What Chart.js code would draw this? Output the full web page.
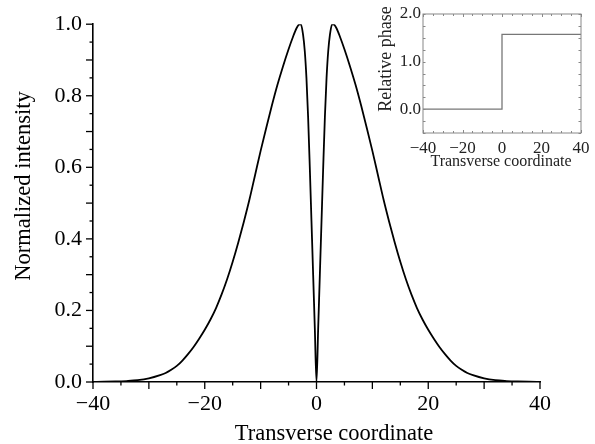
<!DOCTYPE html>
<html><head><meta charset="utf-8">
<script src="https://cdn.jsdelivr.net/npm/chart.js@4"></script>
<style>
html,body{margin:0;padding:0;background:#fff;}
#wrap{position:relative;width:595px;height:444px;overflow:hidden;}
#main{position:absolute;left:0;top:0;}
#inset{position:absolute;left:370px;top:0;}
</style></head><body>
<div id="wrap">
<canvas id="main" width="595" height="444"></canvas>
<canvas id="inset" width="225" height="180"></canvas>
</div>
<script>
// ---- main chart data ----
const transverseCoordinate = [-40,-38,-36,-34,-32,-30,-28,-27,-26,-25,-24,-23,-22,-21,-20,-19,-18,-17,-16,-15,-14,-13,-12,-11,-10,-9,-8,-7,-6,-5,-4.2,-3.6,-3.2,-2.8,-2.4,-2.1,-1.8,-1.5,-1.2,-0.9,-0.6,-0.3,0,
  0.3,0.6,0.9,1.2,1.5,1.8,2.1,2.4,2.8,3.2,3.6,4.2,5,6,7,8,9,10,11,12,13,14,15,16,17,18,19,20,21,22,23,24,25,26,27,28,30,32,34,36,38,40];
const normalizedIntensity = [0.0003,0.0007,0.0014,0.0027,0.005,0.010,0.019,0.025,0.034,0.045,0.060,0.078,0.098,0.121,0.146,0.174,0.206,0.244,0.287,0.336,0.390,0.448,0.510,0.578,0.646,0.710,0.772,0.830,0.882,0.930,0.965,0.988,0.998,1.0,0.97,0.925,0.85,0.74,0.60,0.45,0.30,0.15,0,
  0.15,0.30,0.45,0.60,0.74,0.85,0.925,0.97,1.0,0.998,0.988,0.965,0.930,0.882,0.830,0.772,0.710,0.646,0.578,0.510,0.448,0.390,0.336,0.287,0.244,0.206,0.174,0.146,0.121,0.098,0.078,0.060,0.045,0.034,0.025,0.019,0.010,0.005,0.0027,0.0014,0.0007,0.0003];
const mainXLabels = [-40,-20,0,20,40];
const mainYLabels = [0,0.2,0.4,0.6,0.8,1.0];
const mainXTitle = 'Transverse coordinate';
const mainYTitle = 'Normalized intensity';

// ---- inset data ----
const phaseX = [-40,0,0,40];
const phaseY = [0,0,1.57,1.57];
const insetXLabels = [-40,-20,0,20,40];
const insetYLabels = [0,1,2];
const insetXTitle = 'Transverse coordinate';
const insetYTitle = 'Relative phase';

const SERIF = '"Liberation Serif", "Times New Roman", serif';
const fmtX = v => (v < 0 ? '\u2212' + Math.abs(v) : String(v));

const mainDecor = {
  id: 'mainDecor',
  afterDraw(chart) {
    const {ctx, scales: {x, y}, chartArea: ca} = chart;
    ctx.save();
    ctx.strokeStyle = '#000';
    ctx.lineWidth = 1.3;
    x.ticks.forEach(t => {
      const p = x.getPixelForValue(t.value);
      const major = Math.round(t.value) % 10 === 0;
      ctx.beginPath(); ctx.moveTo(p, ca.bottom); ctx.lineTo(p, ca.bottom + (major ? 7 : 3.5)); ctx.stroke();
    });
    y.ticks.forEach(t => {
      const p = y.getPixelForValue(t.value);
      const major = Math.round(t.value * 100) % 10 === 0;
      ctx.beginPath(); ctx.moveTo(ca.left, p); ctx.lineTo(ca.left - (major ? 7 : 3.5), p); ctx.stroke();
    });
    ctx.fillStyle = '#000';
    ctx.font = '22.5px ' + SERIF;
    ctx.textAlign = 'center';
    ctx.textBaseline = 'middle';
    ctx.fillText(mainXTitle, 334, 434);
    ctx.translate(24, 186);
    ctx.rotate(-Math.PI / 2);
    ctx.fillText(mainYTitle, 0, 0);
    ctx.restore();
  }
};

new Chart(document.getElementById('main'), {
  type: 'scatter',
  data: {
    datasets: [{
      data: transverseCoordinate.map((v, i) => ({x: v, y: normalizedIntensity[i]})),
      showLine: true,
      borderColor: '#000',
      borderWidth: 1.8,
      pointRadius: 0,
      cubicInterpolationMode: 'monotone',
      fill: false
    }]
  },
  options: {
    responsive: false,
    animation: false,
    layout: {padding: {left: 0, right: 55, top: 22, bottom: 0}},
    plugins: {legend: {display: false}, tooltip: {enabled: false}},
    scales: {
      x: {
        type: 'linear', min: -40, max: 40,
        afterFit: s => { s.height = 62; },
        grid: {display: false, drawTicks: false},
        border: {display: true, color: '#000', width: 1.6},
        ticks: {
          stepSize: 5, autoSkip: false, maxRotation: 0, padding: 9,
          color: '#000', font: {family: SERIF, size: 22},
          callback: v => (mainXLabels.includes(v) ? fmtX(v) : '')
        }
      },
      y: {
        type: 'linear', min: 0, max: 1,
        afterFit: s => { s.width = 93; },
        grid: {display: false, drawTicks: false},
        border: {display: true, color: '#000', width: 1.6},
        ticks: {
          stepSize: 0.05, autoSkip: false, padding: 11,
          color: '#000', font: {family: SERIF, size: 22},
          callback: v => {
            const r = Math.round(v * 100);
            return mainYLabels.some(l => Math.round(l * 100) === r) ? (r / 100).toFixed(1) : '';
          }
        }
      }
    }
  },
  plugins: [mainDecor]
});

const insetDecor = {
  id: 'insetDecor',
  afterDraw(chart) {
    const {ctx, scales: {x, y}, chartArea: ca} = chart;
    ctx.save();
    ctx.strokeStyle = '#888';
    ctx.lineWidth = 1;
    ctx.strokeRect(ca.left, ca.top, ca.right - ca.left, ca.bottom - ca.top);
    x.ticks.forEach(t => {
      const p = Math.round(x.getPixelForValue(t.value)) + 0.5;
      const major = Math.round(t.value) % 20 === 0;
      ctx.beginPath(); ctx.moveTo(p, ca.bottom); ctx.lineTo(p, ca.bottom - (major ? 3 : 2)); ctx.stroke();
      ctx.beginPath(); ctx.moveTo(p, ca.top); ctx.lineTo(p, ca.top + (major ? 3 : 2)); ctx.stroke();
    });
    y.ticks.forEach(t => {
      const p = Math.round(y.getPixelForValue(t.value)) + 0.5;
      ctx.beginPath(); ctx.moveTo(ca.left, p); ctx.lineTo(ca.left + 2.5, p); ctx.stroke();
      ctx.beginPath(); ctx.moveTo(ca.right, p); ctx.lineTo(ca.right - 2.5, p); ctx.stroke();
    });
    ctx.fillStyle = '#222';
    ctx.font = '16px ' + SERIF;
    ctx.textAlign = 'center';
    ctx.textBaseline = 'middle';
    ctx.fillText(insetXTitle, 131, 162);
    ctx.translate(16, 59);
    ctx.rotate(-Math.PI / 2);
    ctx.font = '18px ' + SERIF;
    ctx.fillText(insetYTitle, 0, 0);
    ctx.restore();
  }
};

new Chart(document.getElementById('inset'), {
  type: 'scatter',
  data: {
    datasets: [{
      data: phaseX.map((v, i) => ({x: v, y: phaseY[i]})),
      showLine: true,
      borderColor: '#777',
      borderWidth: 1.3,
      pointRadius: 0,
      tension: 0,
      fill: false
    }]
  },
  options: {
    responsive: false,
    animation: false,
    layout: {padding: {left: 0, right: 14, top: 14, bottom: 0}},
    plugins: {legend: {display: false}, tooltip: {enabled: false}},
    scales: {
      x: {
        type: 'linear', min: -40, max: 40,
        afterFit: s => { s.height = 47; },
        grid: {display: false, drawTicks: false},
        border: {display: false},
        ticks: {
          stepSize: 5, autoSkip: false, maxRotation: 0, padding: 5,
          color: '#222', font: {family: SERIF, size: 17},
          callback: v => (insetXLabels.includes(v) ? fmtX(v) : '')
        }
      },
      y: {
        type: 'linear', min: -0.5, max: 2,
        afterFit: s => { s.width = 53; },
        grid: {display: false, drawTicks: false},
        border: {display: false},
        ticks: {
          stepSize: 0.25, autoSkip: false, padding: 2,
          color: '#222', font: {family: SERIF, size: 17},
          callback: v => (insetYLabels.includes(v) ? v.toFixed(1) : '')
        }
      }
    }
  },
  plugins: [insetDecor]
});
</script>
</body></html>
